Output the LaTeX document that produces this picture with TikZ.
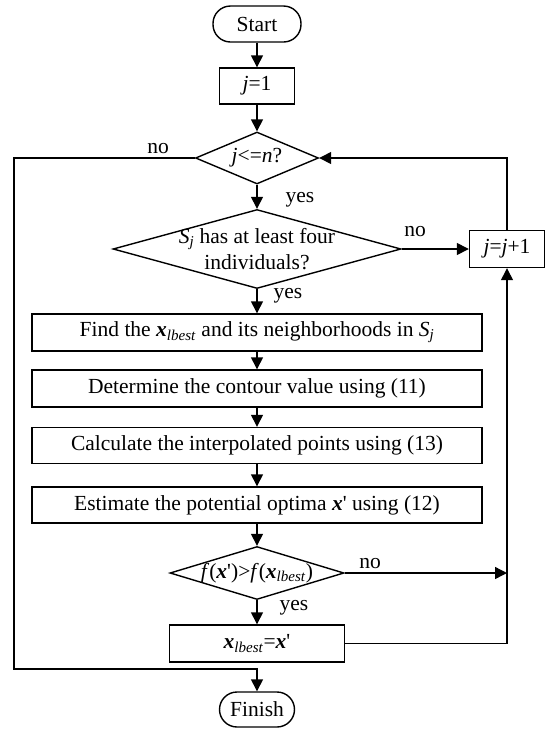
\documentclass[tikz,border=0pt]{standalone}
\usepackage{fontspec}
\setmainfont{Liberation Serif}
\usetikzlibrary{shapes.geometric,arrows.meta}
\newcommand{\bx}{\textbf{\textit{x}}}
\newcommand{\lb}{\textsubscript{\textit{lbest}}}
\begin{document}
\begin{tikzpicture}[x=1pt,y=-1pt,
  txt/.style={font=\fontsize{21.5}{25.5}\selectfont},
  base/.style={draw, line width=1.4pt, inner sep=0pt, txt},
  box/.style={base, rectangle, minimum height=37pt},
  term/.style={base, rectangle, rounded corners=17.5pt, minimum height=36pt},
  dia/.style={base, diamond},
  conn/.style={line width=1.4pt},
  arr/.style={conn, -{Triangle[length=12pt,width=12pt]}},
  lbl/.style={txt, inner sep=0pt}]
\useasboundingbox (0,0) rectangle (551,732);

\node[term, minimum width=88pt] (start) at (257,24) {Start};
\node[box, minimum width=75pt, minimum height=36pt] (j1) at (257,86) {\textit{j}=1};
\node[dia, minimum width=123pt, minimum height=52pt] (d1) at (257,158) {};
\node[lbl] (d1t) at (257,158) {\textit{j}<=\textit{n}?};
\node[dia, minimum width=288pt, minimum height=79pt] (d2) at (257,249) {};
\node[lbl, align=center] (d2t) at (257,249) {\textit{S}\textsubscript{\textit{j}} has at least four\\individuals?};
\node[box, minimum width=75pt] (inc) at (507,249) {\textit{j}=\textit{j}+1};
\node[box, minimum width=450pt] (find) at (257,332.5) {Find the \bx\lb{} and its neighborhoods in \textit{S}\textsubscript{\textit{j}}};
\node[box, minimum width=450pt] (det) at (257,388.5) {Determine the contour value using (11)};
\node[box, minimum width=450pt, minimum height=36pt] (calc) at (257,445.5) {Calculate the interpolated points using (13)};
\node[box, minimum width=450pt, minimum height=36pt] (est) at (257,505) {Estimate the potential optima \bx\textquotesingle{} using (12)};
\node[dia, minimum width=174pt, minimum height=53pt] (d3) at (257,573) {};
\node[lbl] (d3t) at (257,573) {\textit{f}(\bx\textquotesingle)>\textit{f}(\bx\lb)};
\node[box, minimum width=175pt] (upd) at (257,643.5) {\bx\lb=\bx\textquotesingle};
\node[term, minimum width=75pt, minimum height=35pt] (finish) at (257,709.5) {Finish};

\coordinate (lbot) at (14,669);
\coordinate (m3) at (507,573);

\draw[arr] (start) -- (j1);
\draw[arr] (j1) -- (d1);
\draw[arr] (d1) -- (d2);
\draw[arr] (d2) -- (find);
\draw[arr] (find) -- (det);
\draw[arr] (det) -- (calc);
\draw[arr] (calc) -- (est);
\draw[arr] (est) -- (d3);
\draw[arr] (d3) -- (upd);
\draw[arr] (d1.west) -| (lbot) -| (finish.north);
\draw[arr] (inc.north) |- (d1.east);
\draw[arr] (d2.east) -- (inc.west);
\draw[arr] (d3.east) -- (m3);
\draw[arr] (upd.east) -| (inc.south);

\node[lbl] (no1) at (158,149) {no};
\node[lbl] (yes1) at (300,200) {yes};
\node[lbl] (no2) at (415,232) {no};
\node[lbl] (yes2) at (288,296) {yes};
\node[lbl] (no3) at (370,564) {no};
\node[lbl] (yes3) at (294,608) {yes};
\end{tikzpicture}
\end{document}
